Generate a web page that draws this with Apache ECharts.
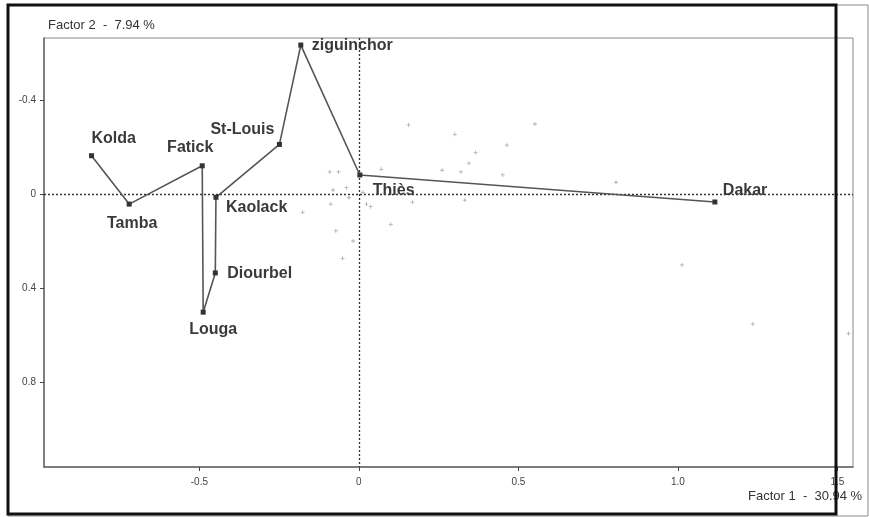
<!DOCTYPE html>
<html>
<head>
<meta charset="utf-8">
<script src="https://cdn.jsdelivr.net/npm/echarts@6/dist/echarts.min.js"></script>
<style>
  html, body { margin: 0; padding: 0; background: #fff; }
  #chart { width: 869px; height: 517px; }
</style>
</head>
<body>
<div id="chart"></div>
<script>
// regions, in the order the path joins them
const places = ['Kolda', 'Tamba', 'Fatick', 'Louga', 'Diourbel', 'Kaolack', 'St-Louis', 'ziguinchor', 'Thiès', 'Dakar'];
const factor1 = [-0.838, -0.720, -0.491, -0.488, -0.450, -0.448, -0.249, -0.182, 0.003, 1.116];
const factor2 = [-0.166, 0.040, -0.123, 0.500, 0.333, 0.011, -0.214, -0.637, -0.084, 0.031];

// faint background points
const cloudF1 = [0.156, 0.301, 0.552, 0.464, 0.366, 0.345, -0.091, -0.064, 0.070, 0.261, 0.320, 0.451, -0.081, -0.039, -0.031,
    -0.088, 0.013, 0.024, 0.037, 0.168, 0.332, -0.176, 0.100, -0.072, -0.018, -0.051, 0.806, 1.013, 1.235, 1.535];
const cloudF2 = [-0.297, -0.257, -0.301, -0.211, -0.180, -0.134, -0.097, -0.097, -0.108, -0.104, -0.097, -0.084, -0.020, -0.030, 0.013,
    0.040, -0.010, 0.040, 0.051, 0.032, 0.023, 0.075, 0.126, 0.154, 0.197, 0.271, -0.053, 0.299, 0.550, 0.591];

const xTicks = [-0.5, 0, 0.5, 1.0, 1.5];
const yTicks = [-0.4, 0, 0.4, 0.8];

// label placement around each marker
const labelPos = {
    'Kolda': { align: 'left', offset: [0, -17] },
    'Tamba': { align: 'center', offset: [3, 19] },
    'Fatick': { align: 'center', offset: [-12, -18] },
    'Louga': { align: 'center', offset: [10, 17] },
    'Diourbel': { align: 'left', offset: [12, 1] },
    'Kaolack': { align: 'left', offset: [10, 10] },
    'St-Louis': { align: 'center', offset: [-37, -15] },
    'ziguinchor': { align: 'left', offset: [11, 1] },
    'Thiès': { align: 'left', offset: [13, 16] },
    'Dakar': { align: 'left', offset: [8, -11] }
};

const fmt = v => v === 0 ? '0' : v.toFixed(1);
const font = "'Liberation Sans', Arial, sans-serif";
const narrow = "'Liberation Sans Narrow', 'Liberation Sans', Arial, sans-serif";

const chart = echarts.init(document.getElementById('chart'), null, { renderer: 'canvas' });

const pathData = places.map((p, i) => ({
    name: p,
    value: [factor1[i], factor2[i]],
    label: {
        show: true,
        position: 'inside',
        formatter: p,
        align: labelPos[p].align,
        verticalAlign: 'middle',
        offset: labelPos[p].offset
    }
}));

const cloud = cloudF1.map((x, i) => [x, cloudF2[i]]);

chart.setOption({
    animation: false,
    backgroundColor: '#fff',
    grid: { left: 44, right: 16, top: 38, bottom: 50, show: true, borderColor: '#888', borderWidth: 1 },
    xAxis: {
        type: 'value',
        min: -0.987,
        max: 1.549,
        axisLine: { show: true, onZero: false, lineStyle: { color: '#666', width: 1.5 } },
        axisTick: { show: true, length: 4, customValues: xTicks, lineStyle: { color: '#444' } },
        axisLabel: { customValues: xTicks, formatter: fmt, color: '#444', fontSize: 10, fontFamily: narrow, margin: 10 },
        splitLine: { show: false }
    },
    yAxis: {
        type: 'value',
        inverse: true,
        min: -0.667,
        max: 1.159,
        axisLine: { show: true, onZero: false, lineStyle: { color: '#666', width: 1.5 } },
        axisTick: { show: true, length: 4, customValues: yTicks, lineStyle: { color: '#444' } },
        axisLabel: { customValues: yTicks, formatter: fmt, color: '#444', fontSize: 10, fontFamily: narrow, margin: 8 },
        splitLine: { show: false }
    },
    series: [
        {
            type: 'scatter',
            data: cloud,
            symbol: 'path://M0 2h5v1h-5z M2 0h1v5h-1z',
            symbolSize: 4,
            itemStyle: { color: '#999' },
            silent: true,
            markLine: {
                silent: true,
                symbol: 'none',
                label: { show: false },
                lineStyle: { color: '#333', width: 1.3, type: [2, 2] },
                data: [{ xAxis: 0 }, { yAxis: 0 }]
            }
        },
        {
            type: 'line',
            data: pathData,
            symbol: 'rect',
            symbolSize: 5,
            itemStyle: { color: '#333' },
            lineStyle: { color: '#555', width: 1.6 },
            label: { color: '#3a3a3a', fontSize: 16, fontWeight: 'bold', fontFamily: font },
            z: 5
        }
    ],
    graphic: [
        {
            type: 'text', left: 48, top: 19, z: 50,
            style: { text: 'Factor 2  -  7.94 %', fill: '#333', font: '13px ' + narrow }
        },
        {
            type: 'text', left: 748, top: 490, z: 50,
            style: { text: 'Factor 1  -  30.94 %', fill: '#333', font: '13px ' + narrow }
        },
        {
            type: 'rect', z: 90, silent: true,
            shape: { x: 8, y: 5, width: 860, height: 511 },
            style: { fill: 'none', stroke: '#888', lineWidth: 1 }
        },
        {
            type: 'rect', z: 100, silent: true,
            shape: { x: 8, y: 5, width: 828, height: 509 },
            style: { fill: 'none', stroke: '#111', lineWidth: 3 }
        }
    ]
});
</script>
</body>
</html>
